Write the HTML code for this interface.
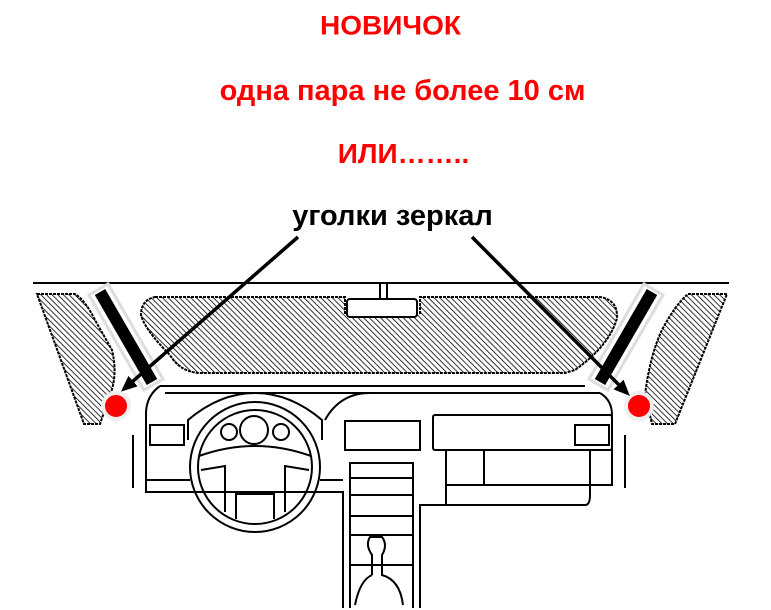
<!DOCTYPE html>
<html><head><meta charset="utf-8"><style>
html,body{margin:0;padding:0;background:#fff;width:771px;height:610px;overflow:hidden}
.t{position:absolute;left:0;width:771px;text-align:center;font-family:"Liberation Sans",sans-serif;font-weight:bold}
</style></head><body>
<div class="t" style="top:10px;font-size:28px;color:#f00;left:5px;transform:scaleY(0.95)">НОВИЧОК</div>
<div class="t" style="top:75px;font-size:29px;color:#f00;left:17px">одна пара не более 10 см</div>
<div class="t" style="top:138px;font-size:28px;color:#f00;left:18px">ИЛИ……..</div>
<div class="t" style="top:200px;font-size:29px;color:#000;left:7px">уголки зеркал</div>
<svg width="771" height="610" style="position:absolute;left:0;top:0" fill="none" stroke="#000" stroke-width="2">
<defs>
<pattern id="h" width="4" height="4" patternUnits="userSpaceOnUse" patternTransform="rotate(-45)">
<line x1="0" y1="0" x2="0" y2="4" stroke="#000" stroke-width="1.6"/></pattern>
<marker id="a" markerWidth="16" markerHeight="14" refX="12" refY="7" orient="auto" markerUnits="userSpaceOnUse"><path d="M0,0 L16,7 L0,14z" fill="#000" stroke="none"/></marker>
</defs>
<line x1="33" y1="283" x2="729" y2="283"/>
<path d="M37,294 L75,294 Q85,300 95,320 L112,350 Q118,375 110,395 L100,424 L84,424 Z" fill="url(#h)" stroke-dasharray="3 1"/>
<path d="M727,294 L688,294 Q675,305 662,330 Q650,355 645,395 L652,424 L675,424 Z" fill="url(#h)" stroke-dasharray="3 1"/>
<path d="M155,297 L345,297 L345,313 L420,313 L420,297 L600,297 Q618,300 617,318 Q610,345 575,370 L565,373 L200,373 Q180,372 170,355 Q145,330 141,315 Q141,300 155,297 Z" fill="url(#h)" stroke-dasharray="3 1"/>
<rect x="347" y="299" width="70" height="18" rx="3" fill="#fff"/>
<line x1="380" y1="283" x2="380" y2="299"/><line x1="387" y1="283" x2="387" y2="299"/>
<path d="M160,386 L585,386"/><path d="M165,393 L600,393"/>
<path d="M160,386 Q147,395 146,412 L146,492 L343,492 L343,608"/>
<path d="M146,480 L190,480 M320,480 L343,480"/>
<rect x="150" y="425" width="34" height="20"/>
<path d="M188,440 L188,420 Q220,393 255,393 Q290,393 322,420 L322,440"/>
<path d="M325,420 Q340,393 370,393"/>
<circle cx="255" cy="467" r="65"/><circle cx="255" cy="467" r="57"/>
<circle cx="229" cy="432" r="8"/><circle cx="254" cy="430" r="14"/><circle cx="281" cy="432" r="8"/>
<path d="M199,456 Q255,436 311,456"/><path d="M201,470 L225,466 L225,512"/><path d="M309,470 L285,466 L285,512"/>
<path d="M236,519 L236,494 L274,494 L274,519"/>
<rect x="345" y="421" width="75" height="29"/>
<path d="M350,608 L350,463 L413,463 L413,608 M350,478 L413,478 M350,495 L413,495 M350,516 L413,516 M350,535 L413,535 M350,565 L413,565"/>
<path d="M372,575 L372,555 Q365,545 370,537 L382,537 Q388,545 382,555 L382,575 Q400,580 403,605 M355,605 Q360,580 372,575"/>
<path d="M420,608 L420,505 L585,505 Q590,505 590,495 L590,450"/>
<path d="M600,393 Q612,400 612,415 L612,485 L446,485 M446,505 L446,450"/>
<rect x="433" y="415" width="179" height="35" rx="2"/>
<rect x="575" y="425" width="34" height="20"/>
<line x1="484" y1="450" x2="484" y2="485"/>
<line x1="133" y1="435" x2="133" y2="488"/><line x1="625" y1="435" x2="625" y2="488"/>
<g transform="translate(126,337) rotate(-30)"><rect x="-11" y="-55" width="22" height="110" fill="#fff" stroke="#ddd" stroke-width="3"/><rect x="-6" y="-52" width="12" height="104" fill="#000" stroke="none"/></g>
<g transform="translate(626,337) rotate(30)"><rect x="-11" y="-55" width="22" height="110" fill="#fff" stroke="#ddd" stroke-width="3"/><rect x="-6" y="-52" width="12" height="104" fill="#000" stroke="none"/></g>
<circle cx="116" cy="406" r="13" fill="#f00" stroke="#eee" stroke-width="4"/>
<circle cx="639" cy="406" r="13" fill="#f00" stroke="#eee" stroke-width="4"/>
<line x1="298" y1="237" x2="124" y2="389" stroke-width="3.5" marker-end="url(#a)"/>
<line x1="472" y1="237" x2="627" y2="393" stroke-width="3.5" marker-end="url(#a)"/>
</svg>
</body></html>
